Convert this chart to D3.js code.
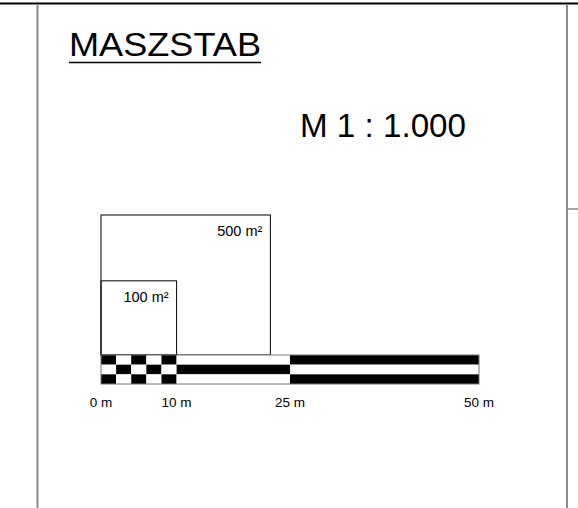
<!DOCTYPE html>
<html>
<head>
<meta charset="utf-8">
<script src="https://cdn.jsdelivr.net/npm/d3@7"></script>
<style>
  html, body { margin: 0; padding: 0; background: #fff; }
  svg { display: block; font-family: "Liberation Sans", Arial, sans-serif; }
</style>
</head>
<body>
<script>
// ---- data ----
const title = "MASZSTAB";
const scaleText = "M 1 : 1.000";
const segmentBreaks = [0, 2, 4, 6, 8, 10, 25, 50];   // metres
const rows = ["r1", "r2", "r3"];
const tickValues = [0, 10, 25, 50];
const tickLabels = ["0 m", "10 m", "25 m", "50 m"];
const boxAreas = [500, 100];                 // m²
const boxLabels = ["500 m²", "100 m²"];
const boxWidths = [22.4, 10];                // metres
const boxHeights = [18.5, 9.8];              // metres (as drawn)

// ---- layout ----
const W = 578, H = 508;
const svg = d3.select("body").append("svg").attr("width", W).attr("height", H);

const x = d3.scaleLinear().domain([0, 50]).range([101, 479]);
const y = d3.scaleLinear().domain([0, 18.5]).range([355, 215]);
const rowBand = d3.scaleBand().domain(rows).range([355, 384]);

// frame
svg.append("line").attr("x1", 0).attr("x2", W).attr("y1", 3.5).attr("y2", 3.5)
  .attr("stroke", "#000").attr("stroke-width", 2);
svg.append("line").attr("x1", 37.5).attr("x2", 37.5).attr("y1", 4).attr("y2", H)
  .attr("stroke", "#8a8a8a").attr("stroke-width", 2);
svg.append("line").attr("x1", 567).attr("x2", 567).attr("y1", 4).attr("y2", H)
  .attr("stroke", "#8a8a8a").attr("stroke-width", 2);
svg.append("line").attr("x1", 567).attr("x2", W).attr("y1", 209).attr("y2", 209)
  .attr("stroke", "#8a8a8a").attr("stroke-width", 1.5);

// title
svg.append("text").attr("x", 69).attr("y", 56)
  .attr("font-size", 33).attr("textLength", 192).attr("lengthAdjust", "spacingAndGlyphs")
  .attr("fill", "#000").text(title);
svg.append("line").attr("x1", 69).attr("x2", 261).attr("y1", 62.5).attr("y2", 62.5)
  .attr("stroke", "#000").attr("stroke-width", 1.5);

svg.append("text").attr("x", 300).attr("y", 137)
  .attr("font-size", 33).attr("textLength", 166).attr("lengthAdjust", "spacingAndGlyphs")
  .attr("fill", "#000").text(scaleText);

// area boxes
const boxes = boxAreas.map((a, i) => ({ area: a, label: boxLabels[i], w: boxWidths[i], h: boxHeights[i] }));
const bg = svg.append("g");
bg.selectAll("rect").data(boxes).join("rect")
  .attr("x", x(0)).attr("y", d => y(d.h))
  .attr("width", d => x(d.w) - x(0)).attr("height", d => y(0) - y(d.h))
  .attr("fill", "none").attr("stroke", "#000").attr("stroke-width", 1);
bg.selectAll("text").data(boxes).join("text")
  .attr("x", d => x(d.w) - 8).attr("y", d => y(d.h) + 21)
  .attr("text-anchor", "end").attr("font-size", 14.5).attr("fill", "#000")
  .text(d => d.label);

// scale bar
const cells = [];
for (let i = 0; i < segmentBreaks.length - 1; i++) {
  rows.forEach((r, j) => {
    cells.push({ x0: segmentBreaks[i], x1: segmentBreaks[i + 1], row: r, black: (i + j) % 2 === 0 });
  });
}
svg.append("g").selectAll("rect").data(cells).join("rect")
  .attr("x", d => x(d.x0)).attr("width", d => x(d.x1) - x(d.x0))
  .attr("y", d => rowBand(d.row)).attr("height", rowBand.bandwidth())
  .attr("fill", d => d.black ? "#000" : "#fff");
svg.append("rect").attr("x", x(0)).attr("y", rowBand(rows[0]))
  .attr("width", x(50) - x(0)).attr("height", rowBand.bandwidth() * rows.length)
  .attr("fill", "none").attr("stroke", "#777").attr("stroke-width", 1);

// tick labels
svg.append("g").selectAll("text").data(tickValues).join("text")
  .attr("x", d => x(d)).attr("y", 407)
  .attr("text-anchor", "middle").attr("font-size", 13.5).attr("fill", "#000")
  .text((d, i) => tickLabels[i]);
</script>
</body>
</html>
